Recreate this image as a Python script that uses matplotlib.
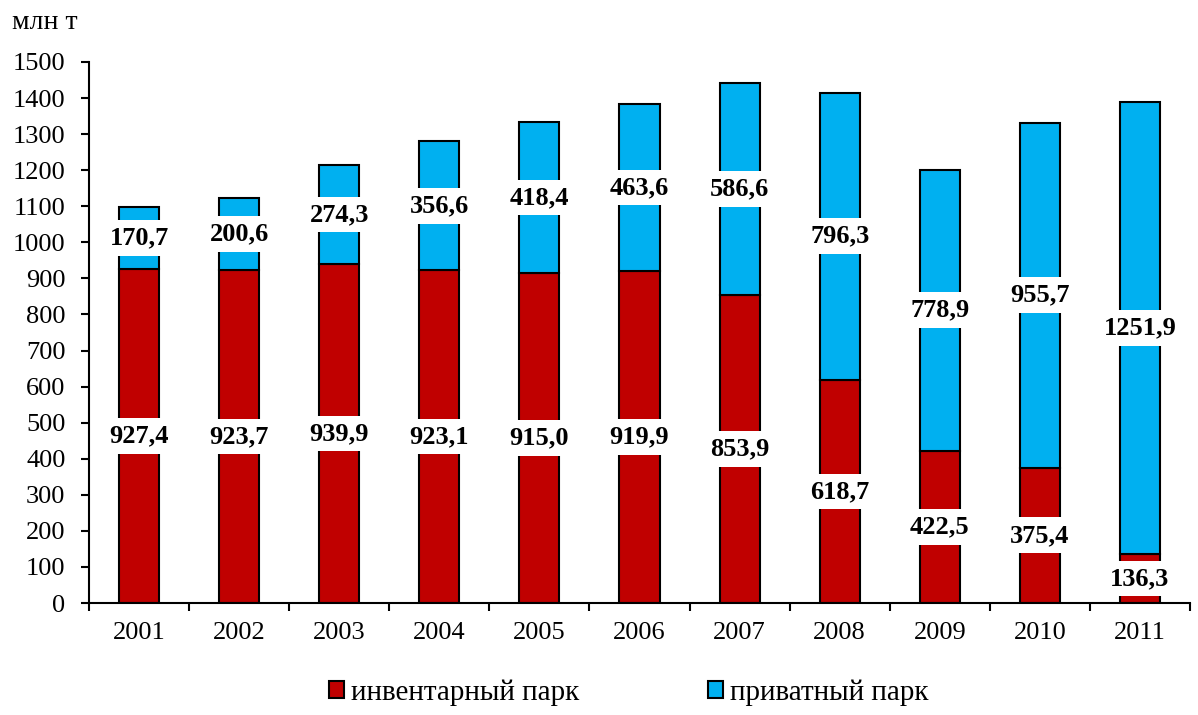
import matplotlib.pyplot as plt
import numpy as np

plt.rcParams['font.family'] = ['Liberation Serif', 'DejaVu Serif']

years = ["2001", "2002", "2003", "2004", "2005", "2006",
         "2007", "2008", "2009", "2010", "2011"]
inventory = [927.4, 923.7, 939.9, 923.1, 915.0, 919.9, 853.9, 618.7, 422.5, 375.4, 136.3]
private = [170.7, 200.6, 274.3, 356.6, 418.4, 463.6, 586.6, 796.3, 778.9, 955.7, 1251.9]
series_names = ["инвентарный парк", "приватный парк"]

red = "#C00000"
blue = "#00B0F0"

fig = plt.figure(figsize=(11.98, 7.15), dpi=100)
ax = fig.add_axes([0.0743, 0.1566, 0.919, 0.7567])

x = np.arange(len(years))
w = 0.4
ax.bar(x, inventory, w, color=red, edgecolor="black", linewidth=1.5, label=series_names[0])
ax.bar(x, private, w, bottom=inventory, color=blue, edgecolor="black", linewidth=1.5,
       label=series_names[1])


def fmt(v):
    return f"{v:.1f}".replace(".", ",")


box = dict(facecolor="white", edgecolor="none", pad=4.5)
for i in range(len(years)):
    ax.text(x[i], inventory[i] / 2, fmt(inventory[i]), ha="center", va="center",
            fontsize=19, fontweight="bold", bbox=box, zorder=5)
    ax.text(x[i], inventory[i] + private[i] / 2, fmt(private[i]), ha="center", va="center",
            fontsize=19, fontweight="bold", bbox=box, zorder=5)

ax.set_xlim(-0.5, len(years) - 0.5)
ax.set_ylim(0, 1500)
ax.set_yticks(np.arange(0, 1501, 100))
ax.set_xticks(x)
ax.set_xticklabels(years)
ax.set_xticks(np.arange(-0.5, len(years)), minor=True)
ax.tick_params(axis="x", which="major", length=0, pad=14, labelsize=19)
ax.tick_params(axis="x", which="minor", length=6, width=1.5, direction="out")
ax.tick_params(axis="y", length=6, width=1.5, direction="out", labelsize=19, pad=11)

ax.spines["top"].set_visible(False)
ax.spines["right"].set_visible(False)
ax.spines["left"].set_linewidth(1.5)
ax.spines["bottom"].set_linewidth(1.5)

fig.text(0.01, 0.969, "млн т", fontsize=20, ha="left", va="center")

fig.legend(loc="lower center", bbox_to_anchor=(0.525, -0.024), ncol=2, frameon=False,
           fontsize=21, handlelength=0.52, handleheight=0.52, handletextpad=0.24,
           columnspacing=4.4)

fig.savefig("out.png", dpi=100)
